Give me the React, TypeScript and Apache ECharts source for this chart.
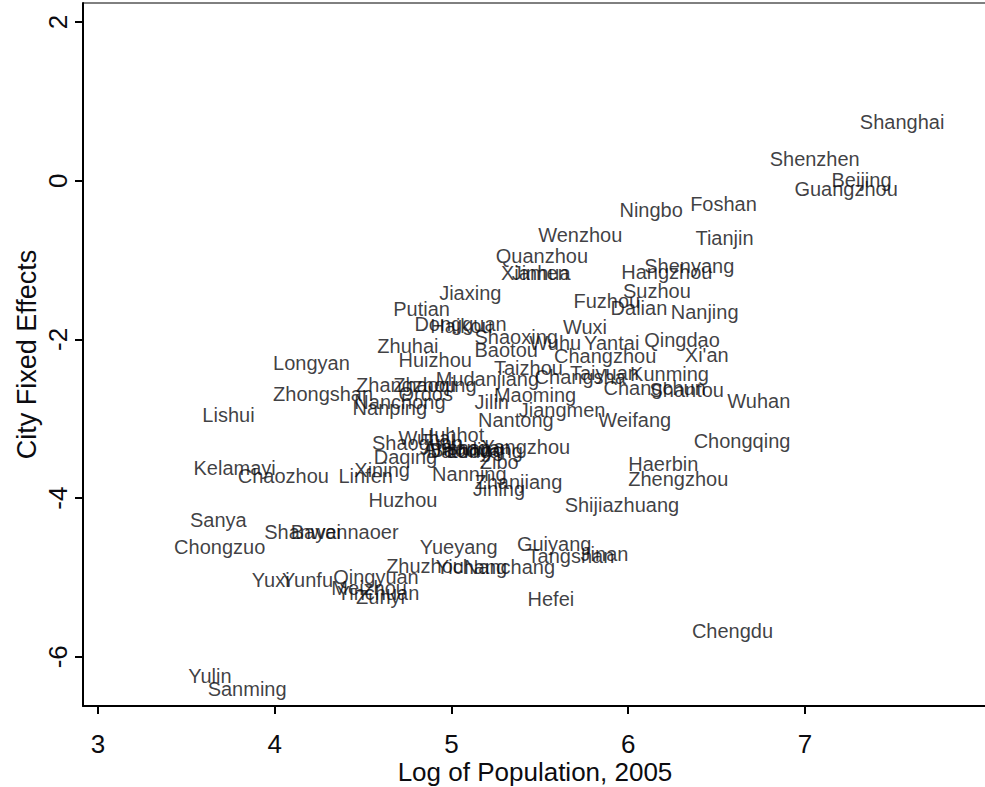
import React, { useEffect, useRef } from "react";
import * as echarts from "echarts";

const cities = [
  "Shanghai", "Shenzhen", "Beijing", "Guangzhou", "Ningbo", "Foshan", "Tianjin", "Wenzhou",
  "Quanzhou", "Xiamen", "Jinhua", "Hangzhou", "Shenyang", "Suzhou", "Jiaxing", "Fuzhou",
  "Dalian", "Nanjing", "Putian", "Dongguan", "Haikou", "Wuxi", "Shaoxing", "Wuhu",
  "Yantai", "Qingdao", "Zhuhai", "Baotou", "Changzhou", "Xi'an", "Huizhou", "Longyan",
  "Taizhou", "Taiyuan", "Changsha", "Kunming", "Mudanjiang", "Zhangzhou", "Zhaoqing", "Zhongshan",
  "Ordos", "Changchun", "Shantou", "Wuhan", "Maoming", "Jilin", "Jiangmen", "Nanchong",
  "Nanping", "Nantong", "Weifang", "Lishui", "Huhhot", "Wuhai", "Shaoguan", "Anshan",
  "Baoding", "Handan", "Luoyang", "Datong", "Yangzhou", "Chongqing", "Daqing", "Zibo",
  "Haerbin", "Kelamayi", "Xining", "Chaozhou", "Linfen", "Nanning", "Zhanjiang", "Jining",
  "Zhengzhou", "Huzhou", "Shijiazhuang", "Sanya", "Shanwei", "Bayannaoer", "Chongzuo", "Yueyang",
  "Guiyang", "Jinan", "Tangshan", "Zhuzhou", "Yichang", "Nanchang", "Hefei", "Yuxi",
  "Yunfu", "Qingyuan", "Meizhou", "Yinchuan", "Zunyi", "Chengdu", "Yulin", "Sanming",
];

const logPopulation = [
  7.31, 6.80, 7.15, 6.94, 5.95, 6.35, 6.38, 5.49,
  5.25, 5.28, 5.34, 5.96, 6.09, 5.97, 4.93, 5.69,
  5.90, 6.24, 4.67, 4.79, 4.88, 5.63, 5.13, 5.44,
  5.75, 6.09, 4.58, 5.13, 5.58, 6.32, 4.70, 3.99,
  5.24, 5.67, 5.47, 6.01, 4.91, 4.46, 4.67, 3.99,
  4.70, 5.86, 6.12, 6.56, 5.24, 5.13, 5.38, 4.45,
  4.44, 5.15, 5.83, 3.59, 4.82, 4.70, 4.55, 4.84,
  4.88, 4.94, 4.97, 4.86, 5.17, 6.37, 4.56, 5.16,
  6.00, 3.54, 4.45, 3.79, 4.36, 4.89, 5.13, 5.12,
  6.00, 4.53, 5.64, 3.52, 3.94, 4.09, 3.43, 4.82,
  5.37, 5.73, 5.43, 4.63, 4.91, 5.07, 5.43, 3.87,
  4.04, 4.33, 4.32, 4.35, 4.46, 6.36, 3.51, 3.62,
];

const cityFixedEffects = [
  0.745, 0.28, 0.01, -0.10, -0.37, -0.29, -0.72, -0.68,
  -0.95, -1.16, -1.16, -1.15, -1.07, -1.39, -1.41, -1.52,
  -1.60, -1.65, -1.62, -1.81, -1.83, -1.84, -1.97, -2.05,
  -2.05, -2.01, -2.08, -2.13, -2.21, -2.20, -2.26, -2.30,
  -2.36, -2.42, -2.47, -2.44, -2.50, -2.58, -2.58, -2.69,
  -2.69, -2.61, -2.64, -2.78, -2.70, -2.79, -2.89, -2.79,
  -2.87, -3.01, -3.01, -2.95, -3.21, -3.24, -3.30, -3.37,
  -3.39, -3.37, -3.40, -3.41, -3.36, -3.28, -3.48, -3.55,
  -3.57, -3.62, -3.65, -3.72, -3.72, -3.69, -3.80, -3.89,
  -3.76, -4.02, -4.09, -4.28, -4.43, -4.43, -4.61, -4.62,
  -4.58, -4.71, -4.73, -4.86, -4.87, -4.87, -5.27, -5.03,
  -5.03, -5.00, -5.13, -5.19, -5.25, -5.67, -6.24, -6.41,
];

const xTicks = [3, 4, 5, 6, 7];
const yTicks = [-6, -4, -2, 0, 2];

const FONT = "'Liberation Sans', Arial, sans-serif";
const TEXT = "#0c0c10";

export default function App() {
  const ref = useRef<HTMLDivElement>(null);
  useEffect(() => {
    document.body.style.margin = "0";
    if (!ref.current) return;
    const chart = echarts.init(ref.current, null, { renderer: "svg" });
    chart.setOption({
      animation: false,
      backgroundColor: "#ffffff",
      grid: {
        left: 83,
        right: -2,
        top: 3,
        bottom: 81,
        outerBoundsMode: "none",
        containLabel: false,
        show: true,
        borderColor: "#000",
        borderWidth: 1,
      },
      xAxis: {
        type: "value",
        min: 2.915,
        max: 8.03,
        name: "Log of Population, 2005",
        nameLocation: "middle",
        nameMoveOverlap: false,
        nameGap: 53,
        nameTextStyle: { fontFamily: FONT, fontSize: 26, color: TEXT },
        axisLine: { show: true, onZero: false, lineStyle: { color: "#000", width: 2 } },
        axisTick: { show: true, length: 8, customValues: xTicks, lineStyle: { color: "#000", width: 2 } },
        axisLabel: { customValues: xTicks, margin: 25, fontFamily: FONT, fontSize: 26, color: TEXT },
        splitLine: { show: false },
      },
      yAxis: {
        type: "value",
        min: -6.62,
        max: 2.24,
        name: "City Fixed Effects",
        nameLocation: "middle",
        nameMoveOverlap: false,
        nameGap: 43,
        nameRotate: 90,
        nameTextStyle: { fontFamily: FONT, fontSize: 27, color: TEXT },
        axisLine: { show: true, onZero: false, lineStyle: { color: "#000", width: 2 } },
        axisTick: { show: true, length: 8, customValues: yTicks, lineStyle: { color: "#000", width: 2 } },
        axisLabel: { customValues: yTicks, rotate: 90, margin: 12, fontFamily: FONT, fontSize: 26, color: TEXT },
        splitLine: { show: false },
      },
      series: [
        {
          type: "scatter",
          symbolSize: 0.1,
          itemStyle: { color: "rgba(0,0,0,0)" },
          data: cities.map((c, i) => ({ name: c, value: [logPopulation[i], cityFixedEffects[i]] })),
          label: {
            show: true,
            position: "right",
            distance: 0,
            formatter: "{b}",
            fontFamily: FONT,
            fontSize: 20,
            color: TEXT,
          },
          labelLayout: { hideOverlap: false },
        },
      ],
    });
    return () => chart.dispose();
  }, []);
  return <div ref={ref} style={{ width: 985, height: 787 }} />;
}
